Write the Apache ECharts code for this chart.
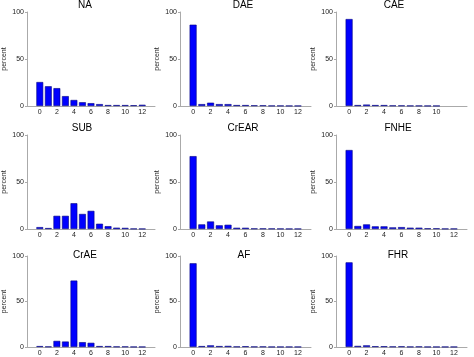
<!DOCTYPE html>
<html><head><meta charset="utf-8">
<script src="https://cdn.jsdelivr.net/npm/echarts@6/dist/echarts.min.js"></script>
<style>html,body{margin:0;padding:0;background:#fff}#c{width:474px;height:357px}</style>
</head><body><div id="c"></div>
<script>
const counts = [0,1,2,3,4,5,6,7,8,9,10,11,12];
const titles = ["NA","DAE","CAE","SUB","CrEAR","FNHE","CrAE","AF","FHR"];
const yTicks = [0,50,100];
const NA    = [25.5,21,19,10.5,6.4,4,3,2,1,1,1,0.8,1.3];
const DAE   = [86.5,2,3.5,2,2,1,1,0.7,0.7,0.3,0.3,0.2,0.2];
const CAE   = [92.5,1,1.5,1,1,0.5,0.5,0.3,0.3,0.2,0.2,null,null];
const SUB   = [2,1,14,14,27.4,16,19.3,5.6,3,1.4,1.2,0.3,0.2];
const CrEAR = [77.5,4.9,8,3.9,4.5,1.3,1.3,0.5,0.5,0.4,0.3,0.2,0.2];
const FNHE  = [84,3.2,4.9,2.8,2.8,1.7,2,1.4,1.4,0.7,0.7,0.3,0.3];
const CrAE  = [1,0.5,6.7,6,73,5.3,4.6,1,1,0.5,0.5,0.2,0.2];
const AF    = [92,1,1.8,1,1.2,0.5,0.8,0.4,0.5,0.2,0.2,0.2,0.2];
const FHR   = [93,1.2,1.8,0.8,0.8,0.5,0.7,0.3,0.5,0.2,0.2,0.2,0.2];
const maxLabel = [12,12,10,12,12,12,12,12,12];

const panels = [NA,DAE,CAE,SUB,CrEAR,FNHE,CrAE,AF,FHR];
const colLeft = [24,180,336];
const rowTop = [12,135,256];
const titleX = [[85,243,394],[82,243,398],[85,244,398]];
const titleTop = [0,123,250];
const W = 131, H = 94;
const FF = 'Liberation Sans';
const cats = ['pad'].concat(counts.map(String)).concat(['pad2']);

const grid=[],xAxis=[],yAxis=[],series=[],title=[];
panels.forEach((vals,i)=>{
  const r=Math.floor(i/3), c=i%3;
  grid.push({left:colLeft[c],top:rowTop[r],width:W,height:H});
  const ml = maxLabel[i];
  xAxis.push({type:'category',gridIndex:i,data:cats,boundaryGap:true,
    axisLine:{lineStyle:{color:'#aaaaaa',width:1}},axisTick:{show:false},
    axisLabel:{interval:0,fontSize:7,color:'#222',margin:3,fontFamily:FF,
      formatter:v=>{const n=Number(v);return (!isNaN(n)&&n%2===0&&n<=ml)?v:'';}}});
  yAxis.push({type:'value',gridIndex:i,min:yTicks[0],max:yTicks[2],interval:yTicks[1],
    name:'percent',nameLocation:'middle',nameGap:19,
    nameTextStyle:{fontSize:7,color:'#222',fontFamily:FF},
    axisLine:{show:true,lineStyle:{color:'#aaaaaa',width:1}},
    axisTick:{show:true,length:2,lineStyle:{color:'#aaaaaa'}},
    splitLine:{show:false},
    axisLabel:{fontSize:7,color:'#222',margin:3,fontFamily:FF}});
  series.push({type:'bar',xAxisIndex:i,yAxisIndex:i,barCategoryGap:'20%',
    data:[null].concat(vals).concat([null]),
    itemStyle:{color:'#0000ff',borderColor:'#000080',borderWidth:0.6},
    animation:false});
  title.push({text:titles[i],left:titleX[r][c],top:titleTop[r],textAlign:'center',padding:0,
    textStyle:{fontSize:10,fontWeight:'normal',color:'#000',fontFamily:FF}});
});
const chart=echarts.init(document.getElementById('c'),null,{renderer:'canvas'});
chart.setOption({animation:false,title,grid,xAxis,yAxis,series});
</script></body></html>
